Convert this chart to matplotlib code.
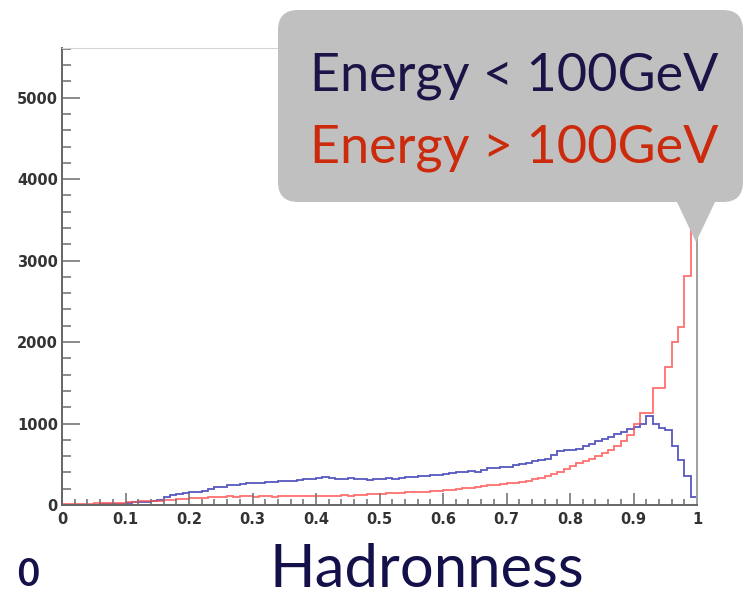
import numpy as np
import matplotlib
matplotlib.use("Agg")
import matplotlib.pyplot as plt
from matplotlib.patches import FancyBboxPatch, Polygon
from matplotlib.ticker import MultipleLocator

# Hadronness distributions, 100 bins over [0, 1]
low_energy = [
    5, 5, 5, 5, 5, 5, 10, 10, 10, 15,
    30, 35, 40, 40, 45, 60, 100, 120, 130, 150,
    160, 165, 175, 200, 215, 225, 240, 250, 255, 265,
    270, 275, 280, 285, 290, 295, 300, 310, 315, 320,
    335, 345, 330, 325, 320, 330, 320, 315, 310, 320,
    325, 330, 320, 335, 340, 340, 350, 360, 365, 370,
    380, 390, 400, 410, 420, 400, 430, 455, 460, 470,
    470, 490, 500, 520, 535, 555, 570, 610, 660, 680,
    680, 690, 720, 750, 780, 810, 840, 870, 900, 930,
    960, 1000, 1090, 1000, 950, 925, 720, 555, 350, 100,
]
high_energy = [
    10, 10, 15, 15, 15, 20, 20, 20, 25, 30,
    35, 40, 45, 45, 50, 55, 60, 65, 70, 75,
    80, 85, 90, 95, 100, 100, 105, 100, 105, 110,
    100, 105, 110, 100, 105, 110, 105, 110, 115, 110,
    105, 110, 115, 110, 120, 115, 120, 125, 130, 135,
    140, 145, 150, 150, 155, 160, 160, 165, 170, 175,
    185, 190, 195, 205, 210, 220, 230, 240, 250, 255,
    265, 275, 285, 300, 315, 335, 355, 380, 410, 445,
    480, 510, 540, 570, 600, 640, 680, 730, 790, 860,
    1000, 1130, 1130, 1440, 1440, 1700, 2000, 2185, 2815, 3500,
]
x_ticks = [0, 0.1, 0.2, 0.3, 0.4, 0.5, 0.6, 0.7, 0.8, 0.9, 1.0]
x_tick_labels = ["0", "0.1", "0.2", "0.3", "0.4", "0.5", "0.6", "0.7", "0.8", "0.9", "1"]
y_ticks = [0, 1000, 2000, 3000, 4000, 5000]
y_tick_labels = ["0", "1000", "2000", "3000", "4000", "5000"]
legend_lines = ["Energy < 100GeV", "Energy > 100GeV"]
x_label = "Hadronness"

W, H = 746, 597
fig = plt.figure(figsize=(W / 100, H / 100), dpi=100)
ax = fig.add_axes([62 / W, 1 - 505 / H, (697 - 62) / W, (505 - 48) / H])

edges = np.linspace(0.0, 1.0, len(low_energy) + 1)
ax.stairs(low_energy, edges, baseline=None, color="#3a3ab4", lw=1.3, alpha=0.85)
ax.stairs(high_energy, edges, baseline=None, color="#ff4c4c", lw=1.3, alpha=0.8)

ax.set_xlim(0, 1)
ax.set_ylim(0, 5610)
ax.set_xticks(x_ticks)
ax.set_xticklabels(x_tick_labels)
ax.set_yticks(y_ticks)
ax.set_yticklabels(y_tick_labels)
ax.xaxis.set_minor_locator(MultipleLocator(0.02))
ax.yaxis.set_minor_locator(MultipleLocator(200))
ax.tick_params(axis="y", which="major", direction="in", length=13, width=1.2,
               color="#777777", labelsize=10.5, labelcolor="#333333", pad=3)
ax.tick_params(axis="y", which="minor", direction="in", length=6.5, width=1.2,
               color="#777777")
ax.tick_params(axis="x", which="major", direction="in", length=9, width=1.2,
               color="#777777", labelsize=10.5, labelcolor="#333333", pad=5)
ax.tick_params(axis="x", which="minor", direction="in", length=4.5, width=1.2,
               color="#777777")
for lbl in ax.get_xticklabels() + ax.get_yticklabels():
    lbl.set_fontweight("semibold")
ax.spines["left"].set_color("#666666")
ax.spines["bottom"].set_color("#666666")
ax.spines["left"].set_linewidth(1.4)
ax.spines["bottom"].set_linewidth(1.4)
ax.spines["top"].set_color("#d4d4d4")
ax.spines["right"].set_color("#a0a0a0")
ax.spines["right"].set_linewidth(1.4)

# overlay in pixel coordinates for the callout and captions
ov = fig.add_axes([0, 0, 1, 1])
ov.set_xlim(0, W)
ov.set_ylim(H, 0)
ov.axis("off")

gray = "#c0c0c0"
box = FancyBboxPatch((278, 10), 465, 192, boxstyle="round,pad=0,rounding_size=20",
                     facecolor=gray, edgecolor="none")
ov.add_patch(box)
ov.add_patch(Polygon([(676, 200), (716, 200), (696, 242)], closed=True,
                     facecolor=gray, edgecolor="none"))

ov.text(310, 90, legend_lines[0], fontsize=37.5, family="Lato", fontweight="normal",
        color="#1c1446", ha="left", va="baseline")
ov.text(310, 162, legend_lines[1], fontsize=37.5, family="Lato", fontweight="normal",
        color="#cc2a0c", ha="left", va="baseline")

ov.text(17, 586, "0", fontsize=27, family="Lato", fontweight="bold",
        color="#14104a", ha="left", va="baseline")
ov.text(427, 597, x_label, fontsize=43, family="Lato", fontweight="normal",
        color="#14104a", ha="center", va="bottom")

fig.savefig("out.png", dpi=100)
